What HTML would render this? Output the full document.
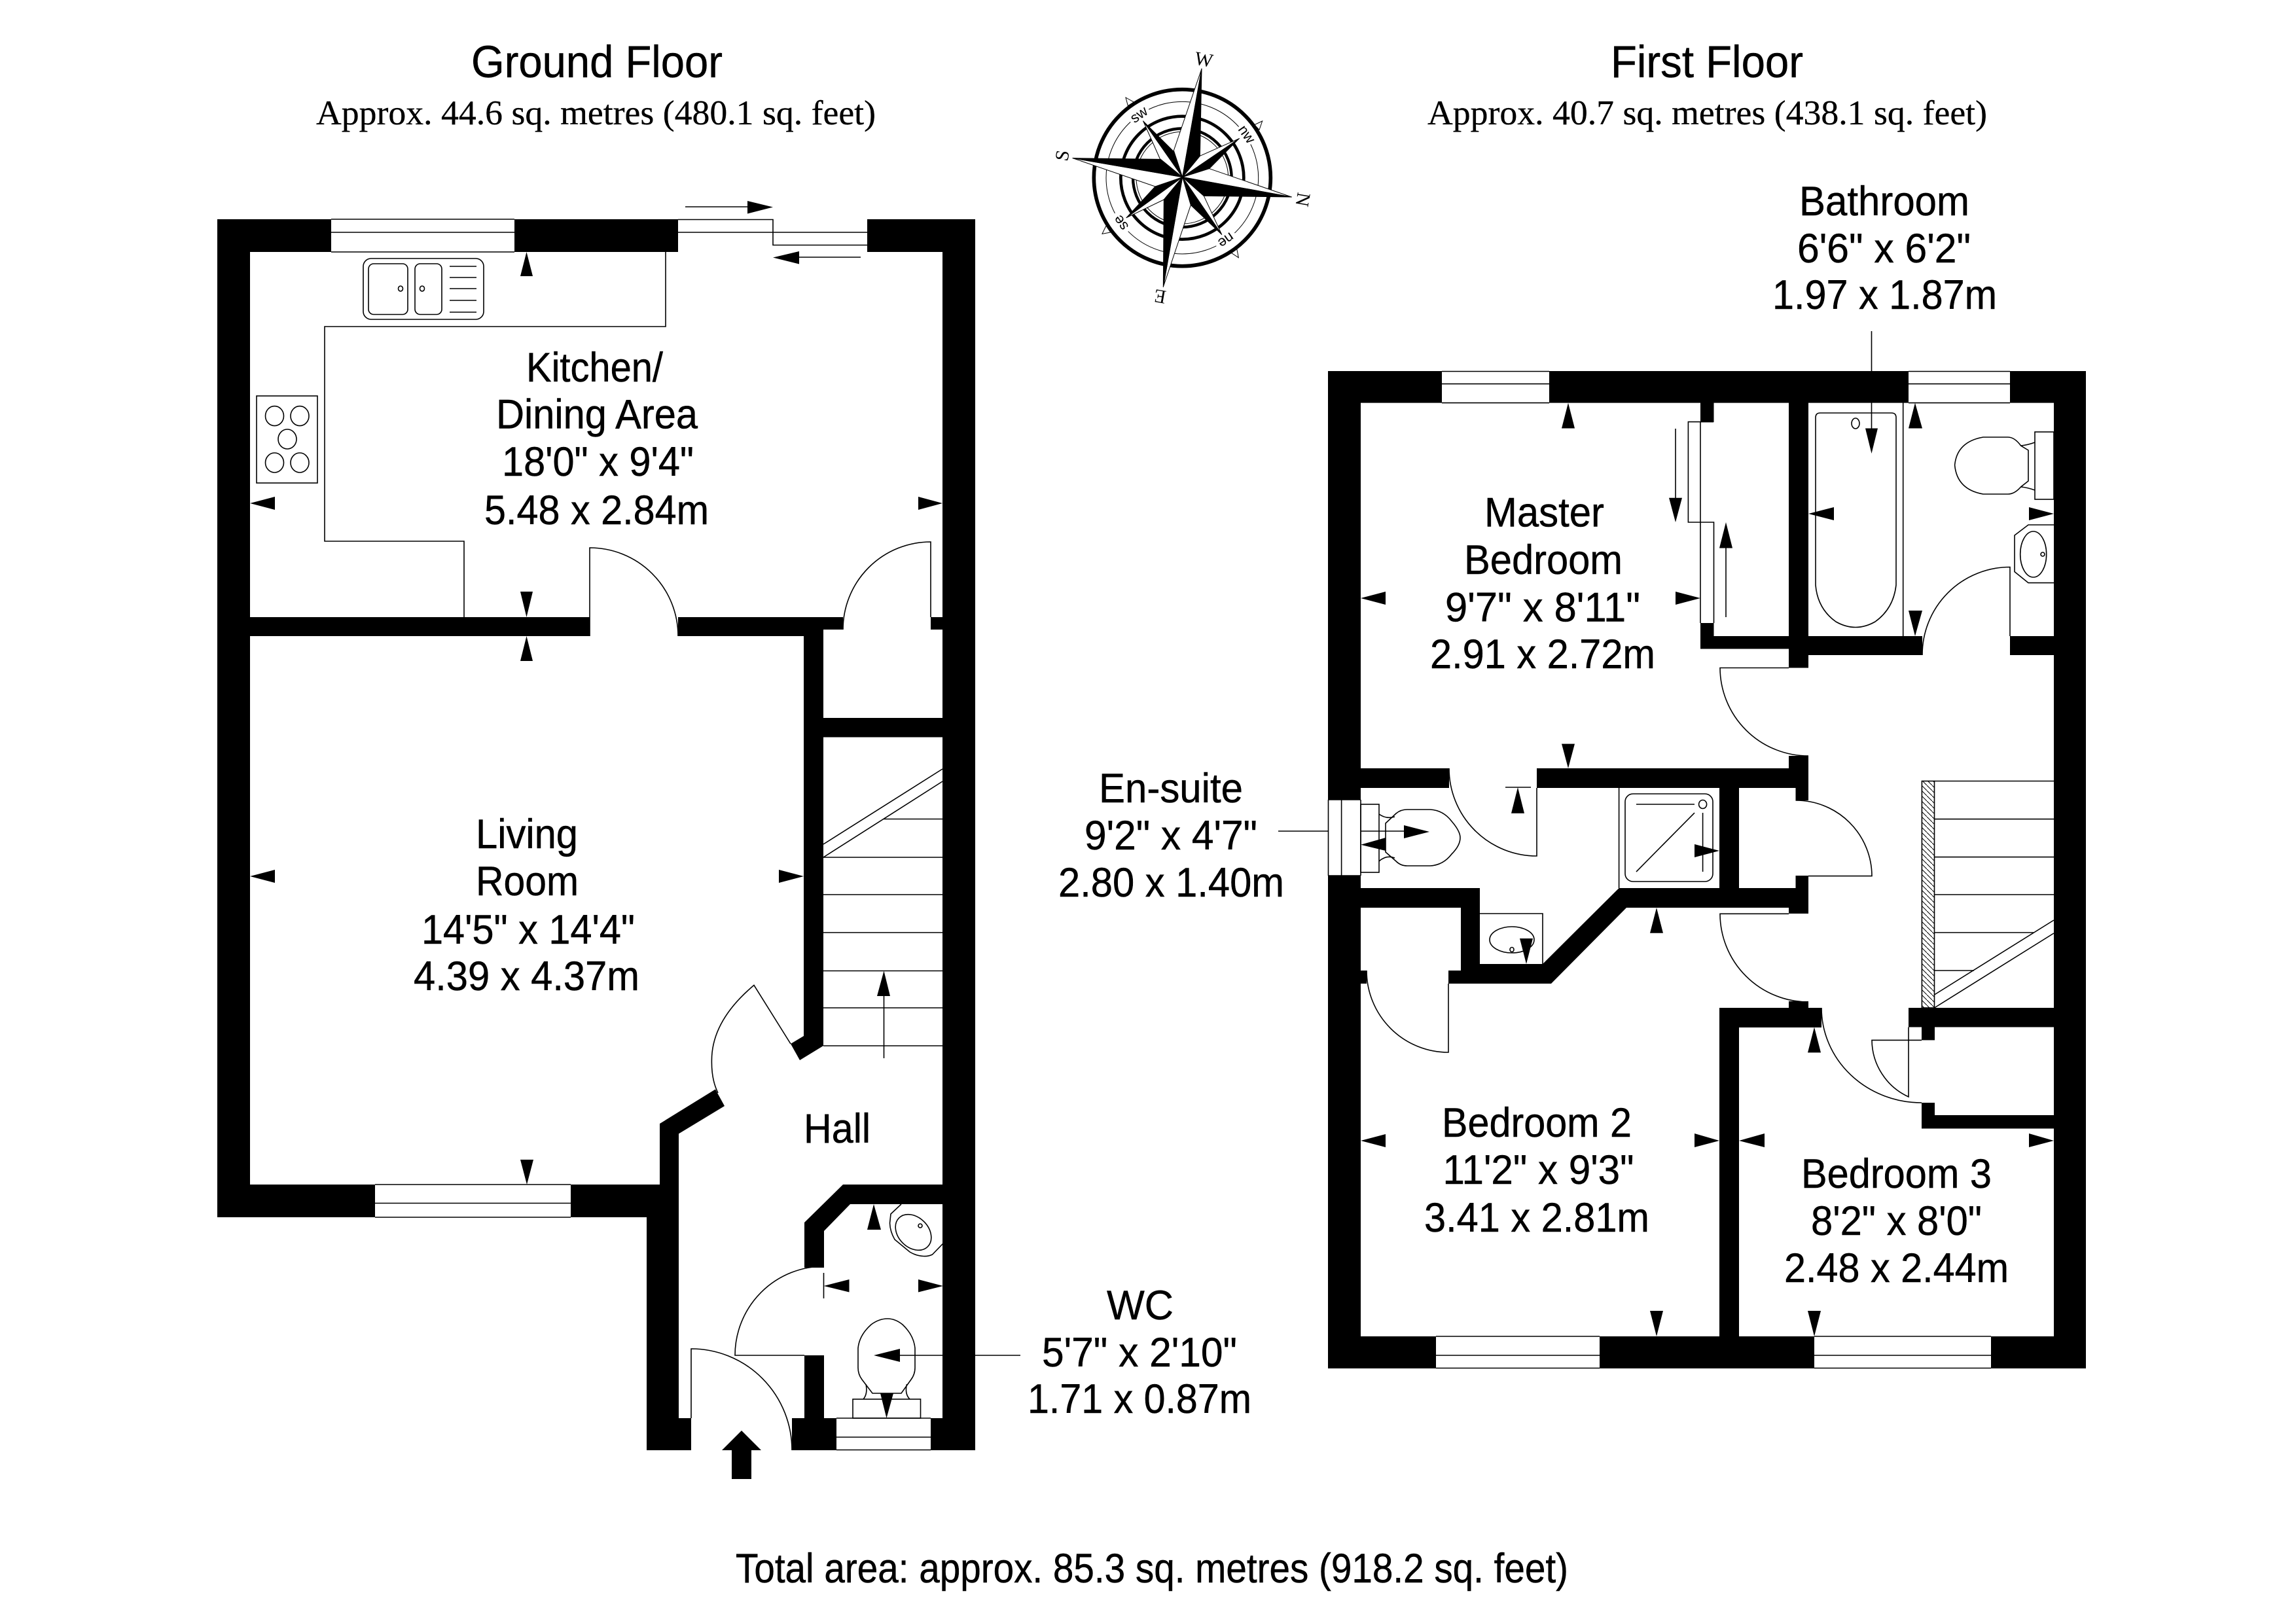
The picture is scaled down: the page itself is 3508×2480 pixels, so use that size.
<!DOCTYPE html>
<html><head><meta charset="utf-8"><title>Floor plan</title>
<style>
html,body{margin:0;padding:0;background:#fff}
svg{display:block}
text{font-family:"Liberation Sans",sans-serif;font-size:63px;fill:#000;stroke:#000;stroke-width:.5px}
.s{font-family:"Liberation Serif",serif;font-size:53px;stroke-width:.3px}
.h{font-size:69px}
.w{fill:#000;stroke:none}
.l{fill:none;stroke:#000;stroke-width:1.6}
.wf{fill:#fff;stroke:#000;stroke-width:1.6}
.c text{stroke:none}
</style></head><body>
<svg xmlns="http://www.w3.org/2000/svg" width="3508" height="2480" viewBox="0 0 3508 2480">
<defs><pattern id="hatch" patternUnits="userSpaceOnUse" width="8" height="8"><path d="M-1 -1L9 9" stroke="#000" stroke-width="1"/></pattern></defs>
<rect width="3508" height="2480" fill="#fff"/>

<!-- Headings -->
<text class="h" x="720" y="118" textLength="384" lengthAdjust="spacingAndGlyphs">Ground Floor</text>
<text class="s" x="483" y="190" textLength="855" lengthAdjust="spacingAndGlyphs">Approx. 44.6 sq. metres (480.1 sq. feet)</text>
<text class="h" x="2461" y="118" textLength="294" lengthAdjust="spacingAndGlyphs">First Floor</text>
<text class="s" x="2181" y="190" textLength="855" lengthAdjust="spacingAndGlyphs">Approx. 40.7 sq. metres (438.1 sq. feet)</text>
<text x="1124" y="2418" textLength="1272" lengthAdjust="spacingAndGlyphs">Total area: approx. 85.3 sq. metres (918.2 sq. feet)</text>

<!-- GROUND FLOOR walls -->
<g class="w">
<rect x="332" y="335" width="50" height="1525"/>
<rect x="382" y="335" width="124" height="50"/>
<rect x="786" y="335" width="250" height="50"/>
<rect x="1325" y="335" width="165" height="50"/>
<rect x="1440" y="335" width="50" height="1881"/>
<rect x="382" y="943" width="519" height="29"/>
<rect x="1036" y="943" width="222" height="29"/>
<rect x="1258" y="943" width="30" height="19"/>
<rect x="1422" y="943" width="18" height="19"/>
<rect x="1228" y="972" width="30" height="611"/>
<rect x="1258" y="1097" width="182" height="29.5"/>
<polygon points="1228,1583 1258,1583 1258,1598 1222,1620 1208,1595"/>
<polygon points="1093,1664.5 1107,1690 1036,1733 1008,1717"/>
<rect x="382" y="1810" width="191" height="50"/>
<rect x="872" y="1810" width="136" height="50"/>
<rect x="1008" y="1717" width="29" height="450"/>
<rect x="988" y="1860" width="49" height="356"/>
<rect x="1037" y="2167" width="19" height="49"/>
<polygon points="1229,1868 1288,1810 1441,1810 1441,1840 1299,1840 1259,1881 1259,1937 1229,1937"/>
<rect x="1229" y="2071" width="30" height="96"/>
<rect x="1210" y="2167" width="68" height="49"/>
<rect x="1422" y="2167" width="20" height="49"/>
</g>

<!-- GROUND FLOOR windows / sliding door -->
<g class="l">
<path d="M506 335H786M506 355H786M506 385H786"/>
<path d="M1036 335.5H1181V374.5H1325M1036 355H1325M1036 385"/>
<path d="M573 1810H872M573 1838.5H872M573 1860H872"/>
<path d="M1278 2167H1422M1278 2196H1422M1278 2215.5H1422"/>
<path d="M1047 316H1145M1315 393H1219"/>
<path d="M1017 385V499H496V827H709V943"/>
<rect x="555" y="395" width="184" height="93" rx="12"/>
<rect x="563" y="403" width="60" height="77.5" rx="8"/>
<rect x="634" y="403" width="41" height="77.5" rx="8"/>
<ellipse cx="612" cy="441" rx="3.5" ry="4"/>
<ellipse cx="645" cy="441" rx="3.5" ry="4"/>
<path d="M687 407H728M687 424H728M687 441H728M687 459H728M687 477H728"/>
<rect x="392" y="605" width="93" height="133"/>
<ellipse cx="419.5" cy="635.6" rx="14" ry="15"/>
<ellipse cx="458" cy="635.6" rx="14" ry="15"/>
<ellipse cx="439" cy="671" rx="14" ry="15"/>
<ellipse cx="419.5" cy="707" rx="14" ry="15"/>
<ellipse cx="458" cy="707" rx="14" ry="15"/>
<path d="M901 972V837A135 135 0 0 1 1036 972"/>
<path d="M1422 943V828A134 134 0 0 0 1288 962"/>
<path d="M1208 1595L1152 1505.4Q1087 1560 1087.4 1621Q1087 1650 1097 1670"/>
<path d="M1229 2071H1123A136 136 0 0 1 1259 1935"/>
<path d="M1258.5 1945V1984"/>
<path d="M1056 2167V2061A154 155 0 0 1 1210 2216"/>
<path d="M1258 1310H1440M1258 1367H1440M1258 1425H1440M1258 1483.5H1440M1258 1540H1440M1258 1598H1440M1350 1251.5H1440"/>
<path d="M1258 1290L1440 1175M1258 1310L1440 1194"/>
<path d="M1350.5 1617V1520"/>
<path d="M1377 1840L1361 1855L1359.5 1869Q1360 1882 1367 1894L1390 1913Q1400 1919 1411 1919.5Q1418 1920 1424.5 1917L1441 1900"/>
<ellipse cx="1395.5" cy="1883" rx="31" ry="23" transform="rotate(45 1395.5 1883)"/>
<circle cx="1406" cy="1873" r="3"/>
<path d="M1333 2129H1377L1392 2108Q1398 2100 1398 2090V2060Q1396 2040 1379 2024Q1368 2015 1356 2015Q1343 2015 1331 2024Q1313 2040 1311 2060V2090Q1311 2100 1317 2108Z"/>
<rect x="1303" y="2138" width="103.5" height="29"/>
<path d="M1323 2115Q1326 2130 1319 2138M1385.5 2115Q1382 2130 1390 2138"/>
<path d="M1375 2071H1559"/>
</g>

<!-- GROUND FLOOR arrows -->
<g class="w">
<polygon points="1181,316.5 1142,307 1142,326.5"/>
<polygon points="1181,393.5 1221,384 1221,403.5"/>
<polygon points="804.5,385 795,422 814,422"/>
<polygon points="382,769 420,759 420,779"/>
<polygon points="1440,769 1403,759 1403,779"/>
<polygon points="804.5,943 795,904 814,904"/>
<polygon points="804.5,972 795,1010 814,1010"/>
<polygon points="382,1339 420,1329 420,1349"/>
<polygon points="1228,1339 1190,1329 1190,1349"/>
<polygon points="805,1810 795,1772 815,1772"/>
<polygon points="1350.5,1483.5 1340,1522 1360,1522"/>
<polygon points="1335,1840 1325,1879 1346,1879"/>
<polygon points="1258.5,1965 1297.5,1955 1297.5,1974.5"/>
<polygon points="1441,1965 1403,1955 1403,1974.5"/>
<polygon points="1335,2071 1375,2061 1375,2081"/>
<polygon points="1354.5,2167 1345,2129 1365,2129"/>
<polygon points="1133,2186 1163,2216 1148,2216 1148,2260 1118,2260 1118,2216 1103,2216"/>
</g>

<!-- GROUND FLOOR labels -->
<text x="804" y="583" textLength="209" lengthAdjust="spacingAndGlyphs">Kitchen/</text>
<text x="758" y="654.5" textLength="308" lengthAdjust="spacingAndGlyphs">Dining Area</text>
<text x="767" y="727" textLength="293" lengthAdjust="spacingAndGlyphs">18'0" x 9'4"</text>
<text x="740" y="801" textLength="343" lengthAdjust="spacingAndGlyphs">5.48 x 2.84m</text>
<text x="727" y="1296" textLength="156" lengthAdjust="spacingAndGlyphs">Living</text>
<text x="727" y="1368" textLength="157" lengthAdjust="spacingAndGlyphs">Room</text>
<text x="644" y="1442" textLength="326" lengthAdjust="spacingAndGlyphs">14'5" x 14'4"</text>
<text x="632" y="1513" textLength="345" lengthAdjust="spacingAndGlyphs">4.39 x 4.37m</text>
<text x="1228" y="1746" textLength="102" lengthAdjust="spacingAndGlyphs">Hall</text>
<text x="1691" y="2016" textLength="102" lengthAdjust="spacingAndGlyphs">WC</text>
<text x="1592" y="2088" textLength="298" lengthAdjust="spacingAndGlyphs">5'7" x 2'10"</text>
<text x="1570" y="2159" textLength="342" lengthAdjust="spacingAndGlyphs">1.71 x 0.87m</text>

<!-- FIRST FLOOR walls -->
<g class="w">
<rect x="2029" y="567" width="50" height="655"/>
<rect x="2029" y="1338" width="50" height="753"/>
<rect x="2079" y="567" width="124" height="48.6"/>
<rect x="2367" y="567" width="549" height="48.6"/>
<rect x="3071" y="567" width="116" height="48.6"/>
<rect x="3138" y="567" width="49" height="1524"/>
<rect x="2079" y="2042" width="115" height="49"/>
<rect x="2444" y="2042" width="328" height="49"/>
<rect x="3042" y="2042" width="96" height="49"/>
<rect x="2598" y="615" width="20.5" height="30"/>
<rect x="2598" y="952" width="20.5" height="20"/>
<rect x="2598" y="972" width="135" height="19.5"/>
<rect x="2733" y="615" width="30" height="405.5"/>
<rect x="2763" y="972" width="174" height="29"/>
<rect x="3071" y="972" width="67" height="29"/>
<rect x="2079" y="1174" width="135" height="30"/>
<rect x="2348" y="1174" width="415" height="30"/>
<rect x="2733" y="1155" width="30" height="19"/>
<rect x="2743.5" y="1204" width="19.5" height="19"/>
<rect x="2627" y="1204" width="30" height="153"/>
<polygon points="2079,1357 2261,1357 2261,1473 2357,1473 2473.6,1357 2743.5,1357 2743.5,1338 2763,1338 2763,1396 2733,1396 2733,1387 2485,1387 2370,1503 2213,1503 2213,1483 2232,1483 2232,1387 2079,1387"/>
<rect x="2079" y="1483" width="9" height="20"/>
<rect x="2627" y="1540" width="156" height="30"/>
<rect x="2733" y="1530" width="30" height="10"/>
<rect x="2627" y="1570" width="30" height="472"/>
<rect x="2916" y="1540" width="222" height="29.5"/>
<rect x="2936" y="1569" width="20" height="20.4"/>
<rect x="2936" y="1685" width="20" height="19"/>
<rect x="2936" y="1704" width="202" height="20.5"/>
</g>

<!-- FIRST FLOOR line work -->
<g class="l">
<path d="M2203 567.5H2367M2203 586.6H2367M2203 615.6H2367"/>
<path d="M2916 567.5H3071M2916 586.6H3071M2916 615.6H3071"/>
<path d="M2194 2042H2444M2194 2071H2444M2194 2090.5H2444"/>
<path d="M2772 2042H3042M2772 2071H3042M2772 2090.5H3042"/>
<path d="M2029 1222H2079M2029 1338H2079M2029.5 1222V1338M2049.6 1222V1338M2079 1222V1338"/>
<path d="M2618 644.6H2579.4V798H2618.5V952M2598 644.6V952"/>
<path d="M2560 655V765M2637 943V835"/>
<path d="M2774 894V638Q2774 631 2781 631H2890Q2897 631 2897 638V894Q2893 930 2865 950Q2850 958.5 2835 958.5Q2820 958.5 2805 950Q2777 930 2774 894Z"/>
<ellipse cx="2835" cy="647" rx="6" ry="8"/>
<path d="M2907.7 615V972"/>
<path d="M2859.5 506V567M2859.5 615V660"/>
<path d="M3099 688L3087.6 681Q3078 668 3068 668H3030Q2990 675 2986.6 710.7Q2990 748 3030 755H3068Q3078 755 3087.6 744L3099 735Z"/>
<rect x="3109" y="660" width="29" height="103"/>
<path d="M3109 676Q3098 680 3088 681M3109 749Q3098 745 3088 744"/>
<path d="M3138 802H3099L3078 818V873.6L3099 890.6H3138"/>
<ellipse cx="3106.7" cy="847" rx="20" ry="35"/>
<circle cx="3121" cy="847" r="3"/>
<path d="M3071 972V866.5A134 134 0 0 0 2937 1001"/>
<path d="M2733 1020.5H2628A135 135 0 0 0 2763 1155"/>
<path d="M2214 1174A134 134 0 0 0 2348 1308V1204"/>
<path d="M2300 1203H2339"/>
<path d="M2743.5 1223A116 116 0 0 1 2860 1338.6H2763"/>
<path d="M2733 1396.3H2628A135 135 0 0 0 2763 1531"/>
<path d="M2213 1503V1608A125 125 0 0 1 2088 1483"/>
<path d="M2783 1540A153 145 0 0 0 2936 1685"/>
<path d="M2936 1589.4H2860A96 96 0 0 0 2916 1676V1569.5"/>
<rect x="2079" y="1229" width="28" height="104"/>
<path d="M2117 1258L2133 1243Q2140 1237 2150 1237H2185Q2205 1238 2218 1255Q2231 1270 2231 1280Q2231 1292 2218 1305Q2205 1322 2185 1323H2150Q2140 1323 2133 1316L2117 1302Z"/>
<path d="M2107 1244Q2118 1252 2131 1248M2107 1316Q2118 1306 2131 1311"/>
<path d="M1953 1270H2029M2079 1270H2150"/>
<path d="M2473.6 1203.7V1357"/>
<rect x="2483" y="1213" width="134" height="134" rx="12"/>
<path d="M2500 1229H2589M2589 1242L2500 1332M2601.6 1242V1332"/>
<ellipse cx="2601.6" cy="1229" rx="6" ry="6.5"/>
<path d="M2261 1396H2357V1473"/>
<ellipse cx="2310" cy="1436" rx="34" ry="20"/>
<ellipse cx="2310" cy="1451" rx="3" ry="3.5"/>
<rect x="2936.4" y="1193.5" width="19.1" height="346.5" fill="url(#hatch)"/>
<path d="M2955.5 1193.5H3138M2955.5 1251.6H3138M2955.5 1309.6H3138M2955.5 1367H3138M2955.5 1425H3107M2955.5 1483H3016"/>
<path d="M2955.5 1520L3138 1406M2955.5 1540L3138 1426"/>
</g>

<!-- FIRST FLOOR arrows -->
<g class="w">
<polygon points="2396,615.6 2386,654.5 2406,654.5"/>
<polygon points="2079,914 2117,904 2117,924"/>
<polygon points="2598,914 2560,904 2560,924"/>
<polygon points="2396,1174 2386,1136.6 2406,1136.6"/>
<polygon points="2560,798 2550,760.7 2570,760.7"/>
<polygon points="2637,798 2627,837.5 2647,837.5"/>
<polygon points="2859.5,693 2850,654.5 2869,654.5"/>
<polygon points="2926,615.6 2916,654.5 2937,654.5"/>
<polygon points="2926,972 2916,933 2937,933"/>
<polygon points="2763,785 2802,775 2802,795"/>
<polygon points="3138,785 3100,775 3100,795"/>
<polygon points="2184,1271 2145,1261 2145,1281"/>
<polygon points="2079,1290.7 2117,1280 2117,1300"/>
<polygon points="2319,1203 2309,1242.7 2329,1242.7"/>
<polygon points="2627,1300 2589,1290 2589,1310"/>
<polygon points="2531,1387 2521,1425.7 2541,1425.7"/>
<polygon points="2332,1473 2322,1434 2342,1434"/>
<polygon points="2772,1569.5 2762,1608.4 2782,1608.4"/>
<polygon points="2079,1743 2117,1733 2117,1753"/>
<polygon points="2627,1743 2589,1732 2589,1753"/>
<polygon points="2657,1743 2696,1732 2696,1753"/>
<polygon points="3138,1743 3100,1732 3100,1753"/>
<polygon points="2531,2042 2521,2003 2541,2003"/>
<polygon points="2772,2042 2762,2003 2782,2003"/>
</g>

<!-- FIRST FLOOR labels -->
<text x="2268" y="804.5" textLength="183" lengthAdjust="spacingAndGlyphs">Master</text>
<text x="2237" y="877" textLength="242" lengthAdjust="spacingAndGlyphs">Bedroom</text>
<text x="2208" y="949.5" textLength="298" lengthAdjust="spacingAndGlyphs">9'7" x 8'11"</text>
<text x="2185" y="1021" textLength="344" lengthAdjust="spacingAndGlyphs">2.91 x 2.72m</text>
<text x="2203" y="1737" textLength="290" lengthAdjust="spacingAndGlyphs">Bedroom 2</text>
<text x="2204.5" y="1809" textLength="292" lengthAdjust="spacingAndGlyphs">11'2" x 9'3"</text>
<text x="2176" y="1882" textLength="344" lengthAdjust="spacingAndGlyphs">3.41 x 2.81m</text>
<text x="2752" y="1815" textLength="291" lengthAdjust="spacingAndGlyphs">Bedroom 3</text>
<text x="2767" y="1887" textLength="261" lengthAdjust="spacingAndGlyphs">8'2" x 8'0"</text>
<text x="2726" y="1959" textLength="343" lengthAdjust="spacingAndGlyphs">2.48 x 2.44m</text>
<text x="2749" y="329" textLength="260" lengthAdjust="spacingAndGlyphs">Bathroom</text>
<text x="2746" y="401" textLength="265" lengthAdjust="spacingAndGlyphs">6'6" x 6'2"</text>
<text x="2708" y="472" textLength="343" lengthAdjust="spacingAndGlyphs">1.97 x 1.87m</text>
<text x="1679" y="1226" textLength="220" lengthAdjust="spacingAndGlyphs">En-suite</text>
<text x="1657" y="1298" textLength="264" lengthAdjust="spacingAndGlyphs">9'2" x 4'7"</text>
<text x="1617" y="1370" textLength="345" lengthAdjust="spacingAndGlyphs">2.80 x 1.40m</text>

<!-- COMPASS -->
<g class="c" transform="translate(1580 50) scale(0.33333)">
<g fill="#fff" stroke="#000" stroke-width="3">
<polygon points="420,297 457,318 430,335"/>
<polygon points="1046,405 1010,422 1032,445"/>
<polygon points="937,1031 905,1010 928,985"/>
<polygon points="312,922 350,915 330,885"/>
</g>
<g fill="none" stroke="#000">
<circle cx="679" cy="665" r="405" stroke-width="17" fill="#fff"/>
<circle cx="679" cy="665" r="349" stroke-width="3"/>
<circle cx="679" cy="665" r="282" stroke-width="14"/>
<circle cx="679" cy="665" r="226" stroke-width="13"/>
<circle cx="679" cy="665" r="211" stroke-width="3"/>
</g>
<g fill="#fff" stroke="none">
<ellipse cx="480" cy="375" rx="52" ry="34" transform="rotate(-35 480 375)"/>
<ellipse cx="975" cy="465" rx="52" ry="34" transform="rotate(55 975 465)"/>
<ellipse cx="880" cy="952" rx="52" ry="34" transform="rotate(145 880 952)"/>
<ellipse cx="397" cy="872" rx="52" ry="34" transform="rotate(235 397 872)"/>
</g>
<g stroke="#000" stroke-width="3" stroke-linejoin="round">
<polygon fill="#fff" points="680,662 580,585 500,405"/>
<polygon fill="#000" points="680,662 640,545 500,405"/>
<polygon fill="#fff" points="680,662 760,565 940,485"/>
<polygon fill="#000" points="680,662 803,623 940,485"/>
<polygon fill="#fff" points="680,662 778,748 860,925"/>
<polygon fill="#000" points="680,662 718,790 860,925"/>
<polygon fill="#fff" points="680,662 595,765 423,848"/>
<polygon fill="#000" points="680,662 555,705 423,848"/>
<polygon fill="#fff" points="680,662 640,540 768,165"/>
<polygon fill="#000" points="680,662 760,565 768,165"/>
<polygon fill="#fff" points="680,662 803,623 1180,753"/>
<polygon fill="#000" points="680,662 778,748 1180,753"/>
<polygon fill="#fff" points="680,662 718,790 592,1165"/>
<polygon fill="#000" points="680,662 595,765 592,1165"/>
<polygon fill="#fff" points="680,662 555,705 177,575"/>
<polygon fill="#000" points="680,662 580,580 177,575"/>
</g>
<g text-anchor="middle">
<text style="font:88px 'Liberation Serif',serif" transform="translate(778 122) rotate(10)" y="30">W</text>
<text style="font:88px 'Liberation Serif',serif" transform="translate(1233 765) rotate(100)" y="30">N</text>
<text style="font:88px 'Liberation Serif',serif" transform="translate(577 1210) rotate(190)" y="30">E</text>
<text style="font:88px 'Liberation Serif',serif" transform="translate(128 563) rotate(-80)" y="30">S</text>
</g>
<g text-anchor="middle">
<text style="font:66px 'Liberation Sans',sans-serif" transform="translate(480 375) rotate(-35)" y="22">sw</text>
<text style="font:66px 'Liberation Sans',sans-serif" transform="translate(975 465) rotate(55)" y="22">nw</text>
<text style="font:66px 'Liberation Sans',sans-serif" transform="translate(880 952) rotate(145)" y="22">ne</text>
<text style="font:66px 'Liberation Sans',sans-serif" transform="translate(397 872) rotate(235)" y="22">se</text>
</g>
</g>
</svg>
</body></html>
